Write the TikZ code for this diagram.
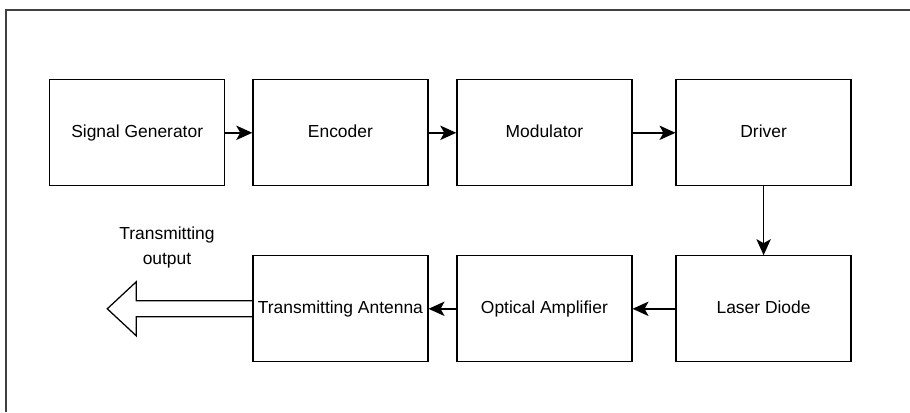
\documentclass[tikz,border=0pt]{standalone}
\usepackage{fontspec}
\setmainfont{Liberation Sans}
\usetikzlibrary{arrows.meta}

\tikzset{
    block/.style={draw, line width=0.9pt, minimum width=4.375cm, minimum height=2.65cm,
        inner sep=0pt, text height=1.38ex, text depth=0pt, font=\fontsize{12.4}{15}\selectfont},
    link/.style={line width=1pt, -{Stealth[length=0.4cm, width=0.36cm, inset=0.1cm]}}
}

\begin{document}
\begin{tikzpicture}
    % Fix the page size
    \useasboundingbox (0,0) rectangle (22.75,10.3);

    % Outer frame (cut off on the right and bottom)
    \draw[line width=1.4pt, black!75] (0.15,0) |- (22.75,10.05);

    % Top row
    \node[block] (sig) at (3.43,6.98) {Signal Generator};
    \node[block] (enc) at (8.51,6.98) {Encoder};
    \node[block] (mod) at (13.61,6.98) {Modulator};
    \node[block] (drv) at (19.09,6.98) {Driver};

    % Bottom row
    \node[block] (ld)  at (19.09,2.58) {Laser Diode};
    \node[block] (oa)  at (13.61,2.58) {Optical Amplifier};
    \node[block] (ant) at (8.51,2.58) {Transmitting Antenna};

    % Connections
    \draw[link] (sig) -- (enc);
    \draw[link] (enc) -- (mod);
    \draw[link] (mod) -- (drv);
    \draw[link] (drv) -- (ld);
    \draw[link] (ld) -- (oa);
    \draw[link] (oa) -- (ant);

    % Hollow output arrow
    \draw[line width=0.9pt] ([yshift=0.2cm]ant.west) -- ++(-2.9,0) -- ++(0,0.475)
        -- ++(-0.725,-0.675) -- ++(0.725,-0.675) -- ++(0,0.475) -- ([yshift=-0.2cm]ant.west);
    \node[align=center, font=\fontsize{12.4}{17.7}\selectfont] (outlabel) at (4.175,4.11)
        {Transmitting\\output};
\end{tikzpicture}
\end{document}
